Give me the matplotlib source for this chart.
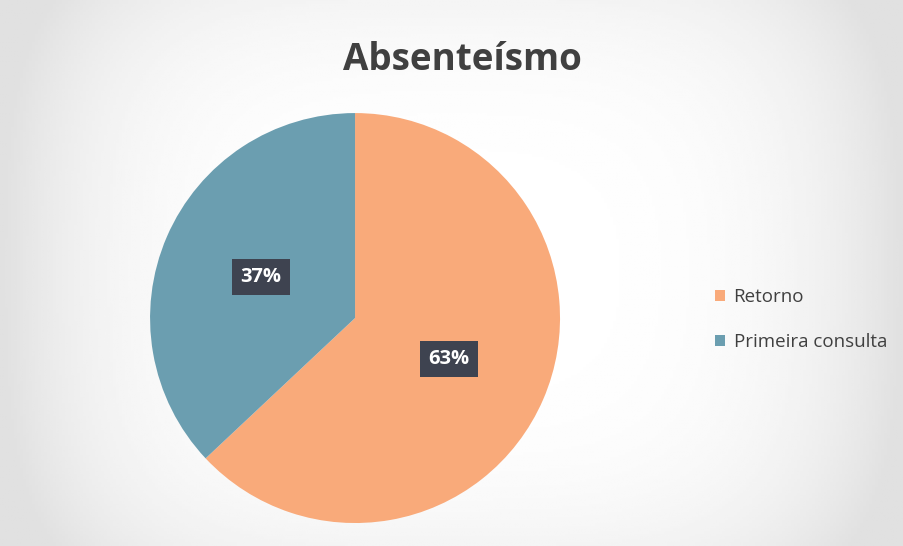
import numpy as np
import matplotlib.pyplot as plt
from matplotlib.patches import Patch

# Data
categories = ['Retorno', 'Primeira consulta']
values = [63, 37]
colors = ['#F9AA7A', '#6B9EB0']

plt.rcParams['font.family'] = ['Open Sans', 'DejaVu Sans']

fig = plt.figure(figsize=(9.04, 5.46), dpi=100)

# scanned-page look: light grey vignette behind the chart
bg = fig.add_axes([0, 0, 1, 1], zorder=-10)
yy, xx = np.mgrid[-1:1:200j, -1:1:300j]
r = np.clip(np.abs(xx) ** 4 * 0.9 + 0.25 * np.abs(yy) ** 4 + 0.1 * (xx**2 + yy**2), 0, 1)
bg.imshow(1 - 0.12 * r, cmap='gray', vmin=0, vmax=1, aspect='auto', extent=[0, 1, 0, 1])
bg.axis('off')

ax = fig.add_axes([0.166, 0.042, 0.4535, 0.751])
wedges, texts, autotexts = ax.pie(values, colors=colors, startangle=90, counterclock=False,
                                  autopct='%1.0f%%', pctdistance=0.5, radius=1,
                                  textprops=dict(color='white', fontsize=14.5, fontweight='bold'))
for t in autotexts:
    t.set_bbox(dict(boxstyle='square,pad=0.4', facecolor='#3E4350', edgecolor='none'))
ax.set_xlim(-1, 1)
ax.set_ylim(-1, 1)
ax.set_aspect('equal')

fig.text(0.512, 0.891, 'Absenteísmo', ha='center', va='center', fontsize=26.5,
         fontweight='bold', color='#404040')

handles = [Patch(facecolor=c, edgecolor='none') for c in colors]
fig.legend(handles, categories, loc='center left', bbox_to_anchor=(0.772, 0.415),
           frameon=False, fontsize=13.5, handlelength=0.55, handleheight=0.55,
           handletextpad=0.45, labelspacing=1.45, labelcolor='#404040')

fig.savefig('out.png', dpi=100)
